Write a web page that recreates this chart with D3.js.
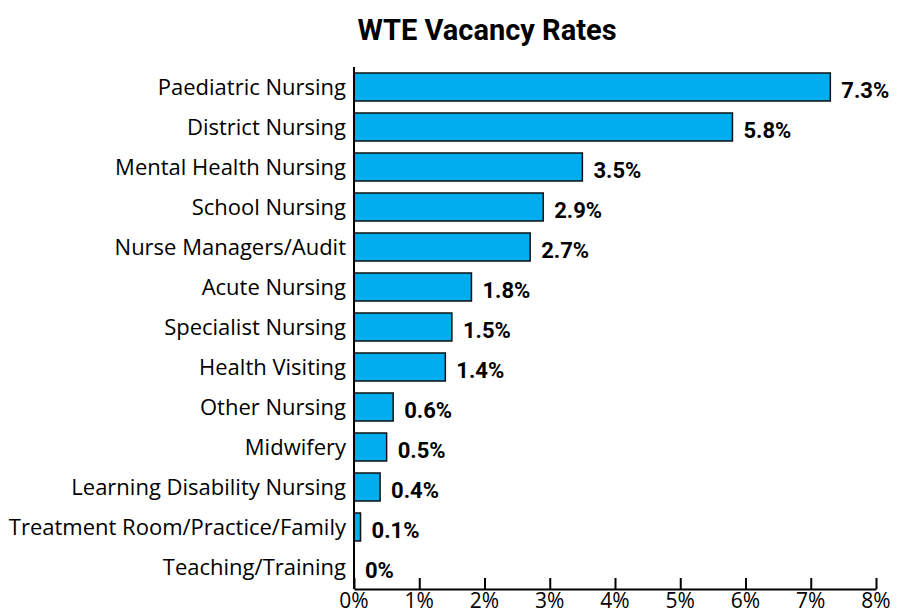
<!DOCTYPE html>
<html>
<head>
<meta charset="utf-8">
<script src="https://cdn.jsdelivr.net/npm/d3@7"></script>
<style>
  body { margin: 0; background: #fff; }
</style>
</head>
<body>
<div id="chart"></div>
<script>
// ===== data =====
var categories = [
    "Paediatric Nursing", "District Nursing", "Mental Health Nursing", "School Nursing",
    "Nurse Managers/Audit", "Acute Nursing", "Specialist Nursing", "Health Visiting",
    "Other Nursing", "Midwifery", "Learning Disability Nursing",
    "Treatment Room/Practice/Family", "Teaching/Training"
];
var rates = [7.3, 5.8, 3.5, 2.9, 2.7, 1.8, 1.5, 1.4, 0.6, 0.5, 0.4, 0.1, 0];
var tickValues = [0, 1, 2, 3, 4, 5, 6, 7, 8];

var width = 902, height = 615
var plotLeft = 354, plotRight = 876, plotTop = 67, plotBottom = 589

var svg = d3.select("#chart")
    .append("svg")
    .attr("width", width)
    .attr("height", height)

// title
svg.append("text")
    .text("WTE Vacancy Rates")
    .attr("x", 487)
    .attr("y", 40)
    .attr("text-anchor", "middle")
    .attr("font-family", "Roboto, sans-serif")
    .attr("font-size", "29px")
    .attr("font-weight", "bold")
    .attr("fill", "black")

var x = d3.scaleLinear()
    .domain([0, 8])
    .range([plotLeft, plotRight])

var y = d3.scaleBand()
    .domain(categories)
    .range([plotTop, plotBottom - 2])
    .paddingInner(0.3)
    .paddingOuter(0.15)

var data = categories.map(function(c, i){
    return {name: c, value: rates[i]}
})

// bars
svg.selectAll("rect.bar")
    .data(data)
    .enter()
    .append("rect")
    .attr("class", "bar")
    .attr("x", x(0))
    .attr("y", function(d){ return y(d.name) })
    .attr("width", function(d){ return x(d.value) - x(0) })
    .attr("height", y.bandwidth())
    .attr("fill", "#00adef")
    .attr("stroke", "#111")
    .style("stroke-width", "1.5px")

// value labels
svg.selectAll("text.val")
    .data(data)
    .enter()
    .append("text")
    .attr("class", "val")
    .text(function(d){ return d.value + "%" })
    .attr("x", function(d){ return x(d.value) + 11 })
    .attr("y", function(d){ return y(d.name) + y.bandwidth() / 2 + 11 })
    .attr("font-family", "Roboto, sans-serif")
    .attr("font-size", "22px")
    .attr("font-weight", "bold")
    .attr("fill", "black")

// category labels
svg.selectAll("text.cat")
    .data(data)
    .enter()
    .append("text")
    .attr("class", "cat")
    .text(function(d){ return d.name })
    .attr("x", plotLeft - 8)
    .attr("y", function(d){ return y(d.name) + y.bandwidth() / 2 + 8 })
    .attr("text-anchor", "end")
    .attr("font-family", "'Open Sans', sans-serif")
    .attr("font-size", "22px")
    .attr("fill", "black")

// y axis line
svg.append("line")
    .attr("x1", plotLeft).attr("x2", plotLeft)
    .attr("y1", plotTop).attr("y2", plotBottom)
    .attr("stroke", "black")
    .style("stroke-width", "2px")

// x axis
var xAxis = d3.axisTop(x)
    .tickValues(tickValues)
    .tickSize(11)
    .tickSizeOuter(0)
    .tickFormat(function(d){ return "" })

var gx = svg.append("g")
    .attr("transform", "translate(0," + plotBottom + ")")
    .call(xAxis)
gx.select(".domain").attr("stroke", "black").style("stroke-width", "2px")
gx.selectAll(".tick line").attr("stroke", "black").style("stroke-width", "2px")

svg.selectAll("text.tick-label")
    .data(tickValues)
    .enter()
    .append("text")
    .attr("class", "tick-label")
    .text(function(d){ return d + "%" })
    .attr("x", function(d){ return x(d) })
    .attr("y", 608)
    .attr("text-anchor", "middle")
    .attr("font-family", "'Open Sans', sans-serif")
    .attr("font-size", "21px")
    .attr("fill", "black")
</script>
</body>
</html>
